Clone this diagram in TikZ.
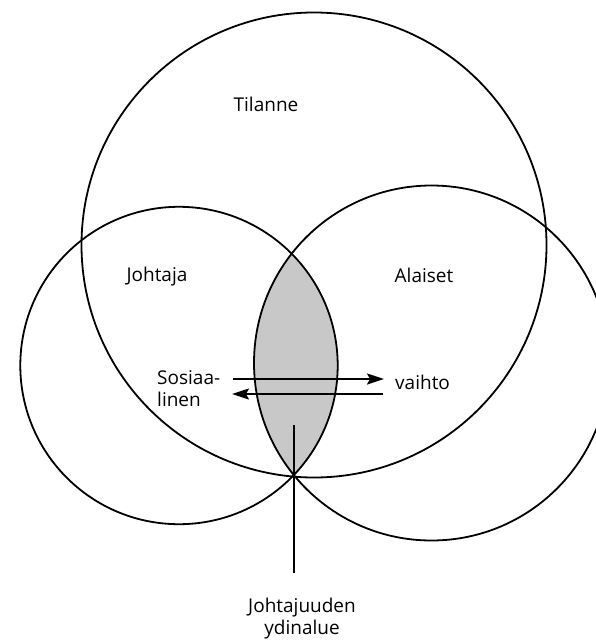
\documentclass[tikz,border=0pt]{standalone}
\usepackage{fontspec}
\setmainfont{Open Sans}
\usetikzlibrary{arrows.meta}
\definecolor{lensgray}{RGB}{200,200,200}
\tikzset{
  ring/.style={circle, draw=black, line width=1.8pt, inner sep=0pt},
  lbl/.style={font=\fontsize{19}{22}\selectfont, inner sep=0pt},
  flow/.style={line width=1.8pt, -{Stealth[length=17pt,width=11pt,inset=3pt]}},
  stem/.style={line width=1.8pt}
}
\begin{document}
\begin{tikzpicture}[x=1pt,y=-1pt]
\useasboundingbox (0,0) rectangle (596,642);
\fill[white] (0,0) rectangle (596,642);
% shaded lens (intersection of leader and followers)
\begin{scope}
  \clip (179,365.5) circle (158.7);
  \fill[lensgray] (431.5,363) circle (177.5);
\end{scope}
% circles
\node[ring, minimum size=465pt] (tilanne) at (314,245) {};
\node[ring, minimum size=317.4pt] (johtaja) at (179,365.5) {};
\node[ring, minimum size=355pt] (alaiset) at (431.5,363) {};
% labels
\node[lbl] (tl) at (266,104) {Tilanne};
\node[lbl] (jl) at (157,277) {Johtaja};
\node[lbl] (al) at (424,275) {Alaiset};
\node[lbl, anchor=west, align=left] (sos) at (157,389) {Sosiaa-\\linen};
\node[lbl, anchor=west] (vai) at (395,382) {vaihto};
\node[lbl, align=center, anchor=north] (core) at (302,598) {Johtajuuden\\ydinalue};
% exchange arrows
\coordinate (a1s) at (233,379);
\coordinate (a1e) at (384,379);
\coordinate (a2s) at (383,394);
\coordinate (a2e) at (232,394);
\draw[flow] (a1s) -- (a1e);
\draw[flow] (a2s) -- (a2e);
% stem to core area
\coordinate (stemtop) at (294,425);
\coordinate (stembot) at (294,573);
\draw[stem] (stemtop) -- (stembot);
\end{tikzpicture}
\end{document}
